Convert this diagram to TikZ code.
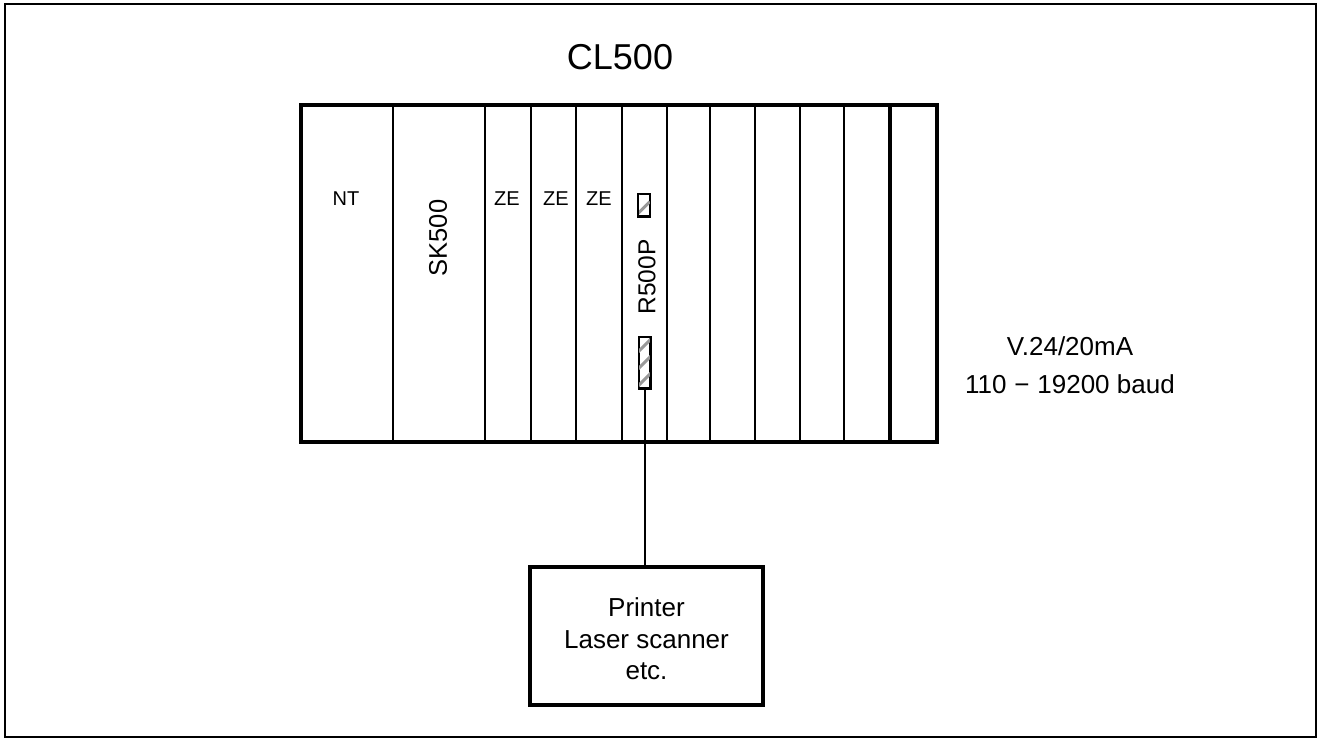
\documentclass[tikz,border=0pt]{standalone}
\usepackage{fontspec}
\setmainfont{Liberation Sans}
\begin{document}
\begin{tikzpicture}[x=1pt,y=-1pt,
  frame/.style={line width=2pt},
  rack/.style={line width=4.5pt,line join=miter},
  slotline/.style={line width=2.2pt},
  thickslot/.style={line width=4pt},
  port/.style={draw,line width=1.5pt,minimum width=11pt,inner sep=0pt,fill=white},
  stripe/.style={gray!80,line width=3pt},
  lbl/.style={font=\fontsize{20}{24}\selectfont,inner sep=0pt},
  rotlbl/.style={font=\fontsize{25.5}{30}\selectfont,inner sep=0pt,rotate=90},
  txt/.style={font=\fontsize{26}{31.5}\selectfont,align=center,inner sep=0pt}]
\useasboundingbox (0,0) rectangle (1319,740);
\draw[frame] (5,4) rectangle (1316,737);
\node[font=\fontsize{36}{40}\selectfont,inner sep=0pt] (title) at (620,57) {CL500};
% slot lines
\foreach \x in {393,485,531,576,622,667,710,755,800,844}
  \draw[slotline] (\x,105) -- (\x,442);
\draw[thickslot] (890,105) -- (890,442);
\draw[rack] (301,105) rectangle (937,442);
\node[lbl] (nt) at (346,199) {NT};
\node[rotlbl] (sk) at (438,238) {SK500};
\node[lbl] (ze1) at (507,199) {ZE};
\node[lbl] (ze2) at (556,199) {ZE};
\node[lbl] (ze3) at (599,199) {ZE};
\node[rotlbl,font=\fontsize{24.5}{30}\selectfont] (r500) at (647,277) {R500P};
% upper port
\node[port,minimum height=22pt] (p1) at (644,205) {};
\begin{scope}
\clip (p1.south west) rectangle (p1.north east);
\draw[stripe] (p1.south west) ++(-2,-1) -- ++(14,-14);
\draw[stripe] (p1.south west) ++(-2,-21) -- ++(14,-14);
\end{scope}
\draw[line width=1.5pt] (p1.south west) rectangle (p1.north east);
% lower port
\node[port,minimum height=51pt] (p2) at (644.5,362.5) {};
\begin{scope}
\clip (p2.south west) rectangle (p2.north east);
\foreach \d in {1,18,35,52}
  \draw[stripe] (p2.south west) ++(-2,-\d) -- ++(15,-15);
\end{scope}
\draw[line width=1.5pt] (p2.south west) rectangle (p2.north east);
% printer
\node[draw,line width=4.5pt,minimum width=233pt,minimum height=138pt,inner sep=0pt] (pr) at (646.5,636) {};
\node[txt] (prt) at (646.5,639) {Printer\\Laser scanner\\etc.};
\draw[line width=2pt] (p2.south) -- (p2.south |- pr.north);
\node[txt,font=\fontsize{26}{38}\selectfont] (v24) at (1070,365) {V.24/20mA\\110\hspace{0.3em}−\hspace{0.3em}19200 baud};
\end{tikzpicture}
\end{document}
